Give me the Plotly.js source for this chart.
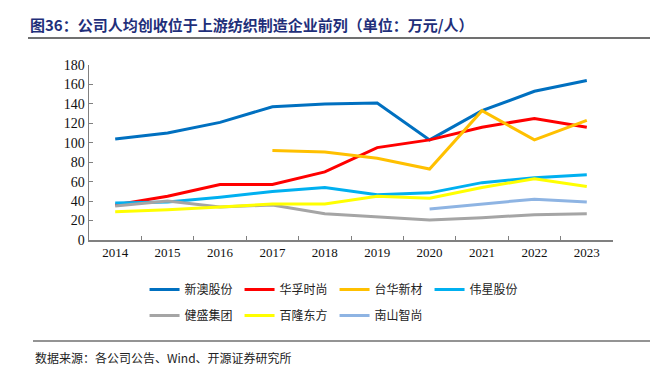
<!DOCTYPE html>
<html><head><meta charset="utf-8">
<script src="https://cdn.plot.ly/plotly-3.0.1.min.js"></script>
<style>body{margin:0;background:#fff}#c{width:666px;height:377px}</style>
</head><body><div id="c"></div>
<script>
const years = ['2014','2015','2016','2017','2018','2019','2020','2021','2022','2023'];
const xinao    = [104,110,121,137,140,141,103,133,153,164];
const huafu    = [36,45,57,57,70,95,103,116,125,116];
const taihua   = [null,null,null,92,90.5,84,73,133,103,123];
const weixing  = [38,39,44,50,54,46.5,48.5,59,64,67];
const jiansheng= [35,40,34,36,27,24,20.5,23,26,27];
const bailong  = [29,31,34,37,37,45,43,54,63,55];
const nanshan  = [null,null,null,null,null,null,32,37,42,39];
const names = ['新澳股份','华孚时尚','台华新材','伟星股份','健盛集团','百隆东方','南山智尚'];
const series = [xinao,huafu,taihua,weixing,jiansheng,bailong,nanshan];
const colors = ['#0070C0','#FF0000','#FFC000','#00B0F0','#A5A5A5','#FFFF00','#8EB4E3'];
const yTicks = [0,20,40,60,80,100,120,140,160,180];

const traces = series.map((s,i)=>({
  x: years, y: s, name: names[i], type:'scatter', mode:'lines',
  line:{color:colors[i], width:3}, connectgaps:false,
  legend: i < 4 ? 'legend' : 'legend2'
}));
const cjk = '"Noto Sans CJK SC", sans-serif';
const legBase = {orientation:'h', xanchor:'left', yanchor:'top',
    entrywidth:50, entrywidthmode:'pixels',
    font:{family:cjk, size:12, color:'#222'}, bgcolor:'rgba(0,0,0,0)'};
const layout = {
  width:666, height:377,
  margin:{l:89, r:53, t:65, b:137},
  paper_bgcolor:'#fff', plot_bgcolor:'#fff',
  showlegend:true,
  legend: Object.assign({x:0.106, y:-0.2}, legBase),
  legend2: Object.assign({x:0.106, y:-0.2-26/175}, legBase),
  xaxis:{type:'category', range:[-0.5,9.5], showline:true, linecolor:'#808080', linewidth:1.5,
    ticks:'inside', ticklen:4, tickcolor:'#808080', tickson:'boundaries', showgrid:false,
    tickfont:{family:'"Liberation Serif", serif', size:13, color:'#111'}, fixedrange:true},
  yaxis:{range:[0,180], tickvals:yTicks, showline:true, linecolor:'#808080', linewidth:1.5,
    ticks:'inside', ticklen:4, tickcolor:'#808080', showgrid:false, zeroline:false,
    tickfont:{family:'"Liberation Serif", serif', size:14, color:'#111'}},
  annotations:[
    {text:'<b>图36：公司人均创收位于上游纺织制造企业前列（单位：万元/人）</b>', xref:'paper', yref:'paper',
     x:-61/524, y:1+(65-24)/175, xanchor:'left', yanchor:'middle', showarrow:false,
     font:{family:cjk, size:15, color:'#1F2F7A'}},
    {text:'数据来源：各公司公告、Wind、开源证券研究所', xref:'paper', yref:'paper',
     x:-56/524, y:-(357-240)/175, xanchor:'left', yanchor:'middle', showarrow:false,
     font:{family:cjk, size:12, color:'#222'}}
  ],
  shapes:[
    {type:'line', xref:'paper', yref:'paper', x0:-61/524, x1:(650-89)/524, y0:1+(65-38)/175, y1:1+(65-38)/175,
     line:{color:'#707070', width:2}},
    {type:'line', xref:'paper', yref:'paper', x0:-56/524, x1:(650-89)/524, y0:-(341-240)/175, y1:-(341-240)/175,
     line:{color:'#707070', width:1.5}}
  ]
};
Plotly.newPlot('c', traces, layout, {displayModeBar:false, staticPlot:true});
</script></body></html>
